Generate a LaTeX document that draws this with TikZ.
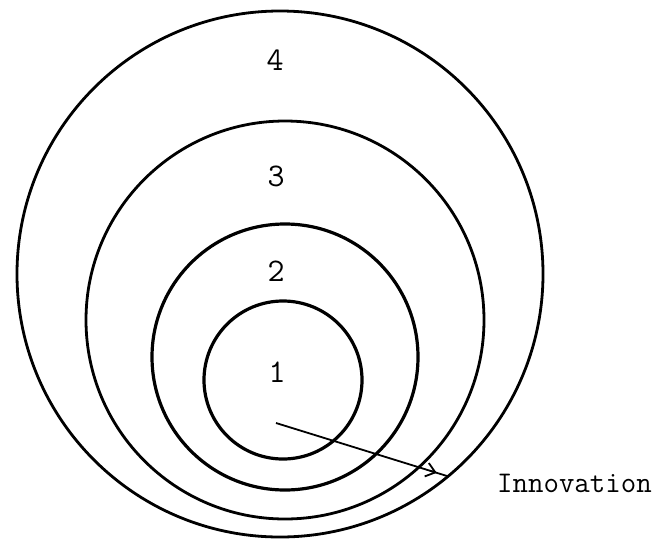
\documentclass[tikz,border=0pt]{standalone}
\usetikzlibrary{arrows.meta,calc}
\begin{document}
\begin{tikzpicture}[x=1pt,y=-1pt,
  ring/.style={draw,circle,inner sep=0pt,outer sep=0pt,line width=2.8pt},
  lbl/.style={font=\ttfamily\fontsize{33}{33}\selectfont,inner sep=0pt},
  note/.style={font=\ttfamily\fontsize{30}{30}\selectfont,inner sep=0pt,anchor=base west}]
\useasboundingbox (0,0) rectangle (661,539);
\node[ring,minimum size=526pt] (c4) at (280,274) {};
\node[ring,minimum size=398pt] (c3) at (285,320) {};
\node[ring,minimum size=266pt,line width=3.2pt] (c2) at (285,357) {};
\node[ring,minimum size=158pt,line width=3.2pt] (c1) at (283,380) {};
\node[lbl] (l4) at (275,60) {4};
\node[lbl] (l3) at (276,176) {3};
\node[lbl] (l2) at (276,271) {2};
\node[lbl] (l1) at (277,372) {1};
\coordinate (s) at (276,423);
\coordinate (e) at (447,476);
\draw[line width=1.8pt,-{Straight Barb[length=9pt,width=14pt,line width=1.8pt]}] (s) -- ($(s)!0.94!(e)$);
\draw[line width=1.8pt] ($(s)!0.9!(e)$) -- (e);
\node[note] (inn) at (497,492) {Innovation};
\end{tikzpicture}
\end{document}
